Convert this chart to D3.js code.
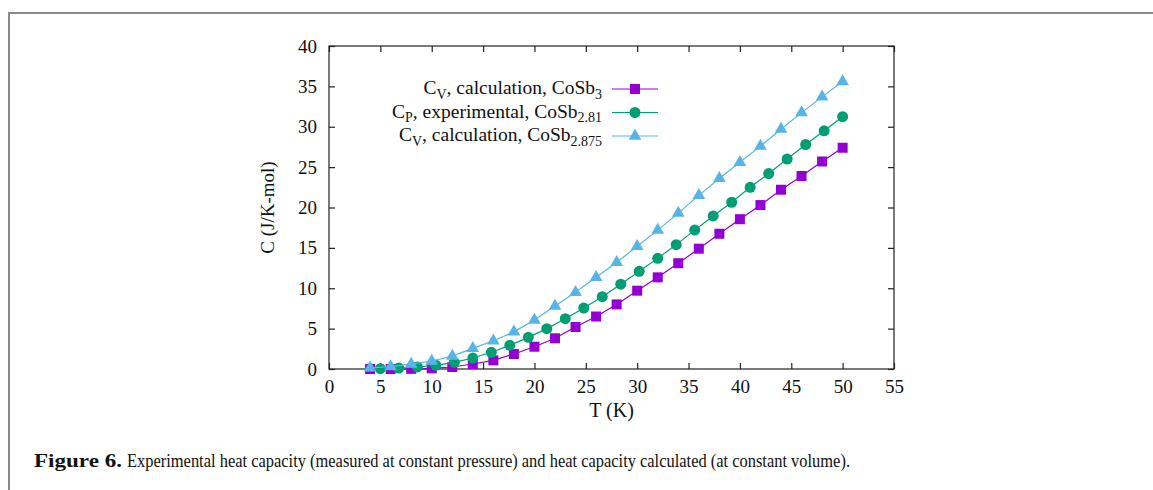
<!DOCTYPE html>
<html><head><meta charset="utf-8">
<script src="https://cdn.jsdelivr.net/npm/d3@7"></script>
<style>body{margin:0;background:#fff}svg{display:block}</style>
</head><body>
<svg id="c" width="1153" height="490"></svg>
<script>
// ---- data ----
const tCalc = [4,6,8,10,12,14,16,18,20,22,24,26,28,30,32,34,36,38,40,42,44,46,48,50];
const cvCoSb3 = [0,0,0.02,0.08,0.25,0.62,1.07,1.86,2.76,3.8,5.2,6.5,8.0,9.7,11.35,13.1,14.9,16.75,18.55,20.3,22.2,23.9,25.7,27.4];
const tExp = [5,6.8,8.6,10.4,12.2,14,15.8,17.6,19.4,21.2,23,24.8,26.6,28.4,30.2,32,33.8,35.6,37.4,39.2,41,42.8,44.6,46.4,48.2,50];
const cpCoSb281 = [0.04,0.12,0.25,0.46,0.83,1.36,2.07,2.93,3.92,5.0,6.23,7.55,8.95,10.5,12.1,13.7,15.4,17.2,18.95,20.65,22.5,24.2,26.0,27.8,29.5,31.25];
const cvCoSb2875 = [0.15,0.3,0.6,0.99,1.6,2.56,3.5,4.6,6.07,7.8,9.5,11.35,13.2,15.2,17.2,19.3,21.5,23.6,25.6,27.6,29.7,31.75,33.7,35.6];
const xTicks = [0,5,10,15,20,25,30,35,40,45,50,55];
const yTicks = [0,5,10,15,20,25,30,35,40];
const seriesNames = [
  {c:"C", cs:"V", mid:", calculation, CoSb", s:"3"},
  {c:"C", cs:"P", mid:", experimental, CoSb", s:"2.81"},
  {c:"C", cs:"V", mid:", calculation, CoSb", s:"2.875"}
];
const colors = ["#9400d3","#009e73","#56b4e9"];
const captionBold = "Figure 6.";
const captionText = "Experimental heat capacity (measured at constant pressure) and heat capacity calculated (at constant volume).";

const svg = d3.select("#c");
const font = "'Liberation Serif','Times New Roman',serif";

// frame
svg.append("path").attr("d","M9,490 V13 H1153").attr("fill","none").attr("stroke","#8a8a8a").attr("stroke-width",2);

const L=329, R=894, T=46, B=369;
const x = d3.scaleLinear().domain([0,55]).range([L,R]);
const y = d3.scaleLinear().domain([0,40]).range([B,T]);

const g = svg.append("g");
g.append("rect").attr("x",L).attr("y",T).attr("width",R-L).attr("height",B-T)
 .attr("fill","none").attr("stroke","#222").attr("stroke-width",1.2);

const tl = 6;
const xb = g.append("g").attr("transform",`translate(0,${B})`)
  .call(d3.axisBottom(x).tickValues(xTicks).tickSize(-tl).tickPadding(11).tickFormat(d3.format("d")));
const xt = g.append("g").attr("transform",`translate(0,${T})`)
  .call(d3.axisTop(x).tickValues(xTicks).tickSize(-tl).tickFormat(""));
const yl = g.append("g").attr("transform",`translate(${L},0)`)
  .call(d3.axisLeft(y).tickValues(yTicks).tickSize(-tl).tickPadding(12).tickFormat(d3.format("d")));
const yr = g.append("g").attr("transform",`translate(${R},0)`)
  .call(d3.axisRight(y).tickValues(yTicks).tickSize(-tl).tickFormat(""));
[xb,xt,yl,yr].forEach(a=>{
  a.select(".domain").remove();
  a.selectAll(".tick line").attr("stroke","#222").attr("stroke-width",1.2);
  a.selectAll(".tick text").attr("font-family",font).attr("font-size",19).attr("fill","#111");
});

svg.append("text").attr("x",(L+R)/2).attr("y",417).attr("text-anchor","middle")
  .attr("font-family",font).attr("font-size",20).attr("fill","#111").text("T (K)");
svg.append("text").attr("transform",`translate(274,${(T+B)/2}) rotate(-90)`).attr("text-anchor","middle")
  .attr("font-family",font).attr("font-size",19).attr("fill","#111").text("C (J/K-mol)");

const series = [
  {t:tCalc, v:cvCoSb3, sym:d3.symbolSquare, size:100},
  {t:tExp, v:cpCoSb281, sym:d3.symbolCircle, size:95},
  {t:tCalc, v:cvCoSb2875, sym:d3.symbolTriangle, size:70}
];
const line = d3.line().x(d=>x(d[0])).y(d=>y(d[1]));
series.forEach((s,i)=>{
  const pts = s.t.map((t,j)=>[t,s.v[j]]);
  g.append("path").attr("d",line(pts)).attr("fill","none").attr("stroke",colors[i]).attr("stroke-width",1.2);
  g.selectAll(null).data(pts).enter().append("path")
    .attr("d",d3.symbol().type(s.sym).size(s.size))
    .attr("transform",d=>`translate(${x(d[0])},${y(d[1])})`)
    .attr("fill",colors[i]);
});

const legY = [89,112.5,136];
seriesNames.forEach((n,i)=>{
  const yy = legY[i];
  const tx = svg.append("text").attr("x",602).attr("y",yy+5).attr("text-anchor","end")
    .attr("font-family",font).attr("font-size",19.5).attr("fill","#111");
  tx.append("tspan").text(n.c);
  tx.append("tspan").attr("dy",4.5).attr("font-size",14).text(n.cs);
  tx.append("tspan").attr("dy",-4.5).text(n.mid);
  tx.append("tspan").attr("dy",4.5).attr("font-size",14).text(n.s);
  svg.append("line").attr("x1",612).attr("x2",658).attr("y1",yy).attr("y2",yy)
    .attr("stroke",colors[i]).attr("stroke-width",1.2);
  svg.append("path").attr("d",d3.symbol().type(series[i].sym).size(series[i].size))
    .attr("transform",`translate(635,${yy})`).attr("fill",colors[i]);
});

svg.append("text").attr("x",34).attr("y",467).attr("font-family",font).attr("font-size",19)
  .attr("font-weight","bold").attr("fill","#111").text(captionBold)
  .attr("textLength",88).attr("lengthAdjust","spacingAndGlyphs");
svg.append("text").attr("x",127).attr("y",467).attr("font-family",font).attr("font-size",19)
  .attr("fill","#111").text(captionText)
  .attr("textLength",850-127).attr("lengthAdjust","spacingAndGlyphs");
</script>
</body></html>
